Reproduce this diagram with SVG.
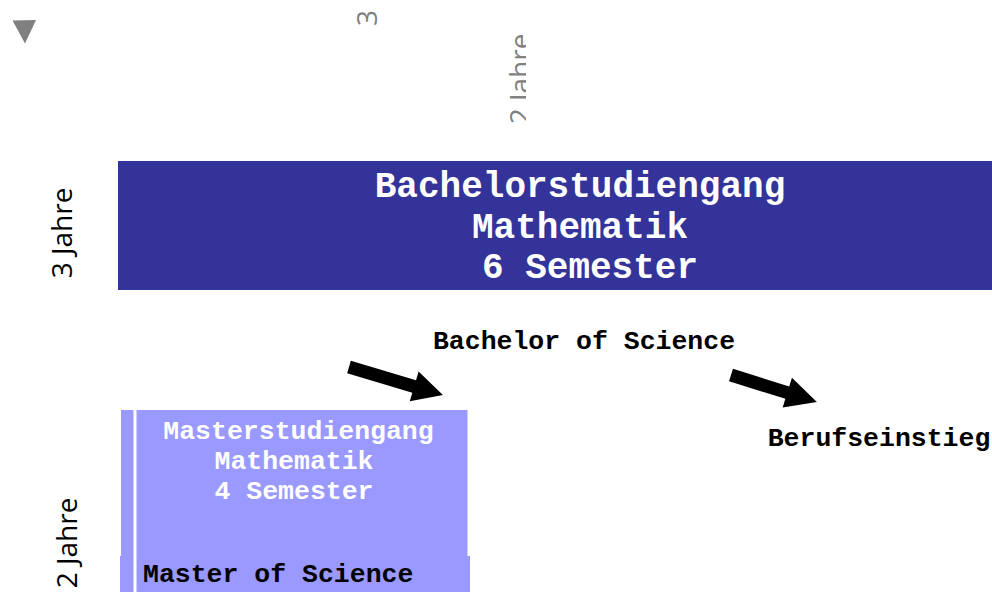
<svg xmlns="http://www.w3.org/2000/svg" width="992" height="592" viewBox="0 0 992 592">
  <style>
    .mono { font-family: "Liberation Mono", "DejaVu Sans Mono", monospace; font-weight: bold; }
    .w { fill: #ffffff; }
    .k { fill: #000000; }
    .yr { font-family: "Open Sans", "Noto Sans", sans-serif; font-size: 28px; }
    .ghost { fill: #808080; }
    .arrow { fill: #000000; }
  </style>
  <defs>
    <clipPath id="clipTop">
      <rect x="0" y="0" width="526" height="592"/>
    </clipPath>
  </defs>
  <rect x="0" y="0" width="992" height="592" fill="#ffffff"/>

  <g id="marker-triangle">
    <polygon points="12.5,20.5 36,20 25,43.5" fill="#808080"/>
  </g>

  <g id="ghost-labels">
    <text class="yr ghost" transform="translate(377,26) rotate(-90)">3</text>
    <g clip-path="url(#clipTop)">
      <text class="yr ghost" font-size="30" text-anchor="middle" transform="translate(530,79) rotate(-90)">2 Jahre</text>
    </g>
  </g>

  <g id="label-3jahre">
    <text class="yr k" text-anchor="middle" transform="translate(72,233) rotate(-90)">3 Jahre</text>
  </g>
  <g id="label-2jahre">
    <text class="yr k" text-anchor="middle" transform="translate(77,543) rotate(-90)">2 Jahre</text>
  </g>

  <g id="bachelor">
    <rect x="118" y="161" width="874" height="129" fill="#333399"/>
    <text class="mono w" font-size="36" text-anchor="middle" x="580" y="197">Bachelorstudiengang</text>
    <text class="mono w" font-size="36" text-anchor="middle" x="580" y="238">Mathematik</text>
    <text class="mono w" font-size="36" text-anchor="middle" x="590" y="278">6 Semester</text>
  </g>

  <g id="bachelor-of-science">
    <text class="mono k" font-size="26.5" text-anchor="middle" x="584" y="349">Bachelor of Science</text>
  </g>

  <g id="berufseinstieg">
    <text class="mono k" font-size="26.5" text-anchor="middle" x="879" y="446">Berufseinstieg</text>
  </g>

  <g id="master">
    <rect x="121" y="410" width="12.5" height="146" fill="#9999ff"/>
    <rect x="136.5" y="410" width="331" height="146" fill="#9999ff"/>
    <rect x="120" y="556" width="13.5" height="36" fill="#9999ff"/>
    <rect x="136.5" y="556" width="333.5" height="36" fill="#9999ff"/>
    <text class="mono w" font-size="26.5" text-anchor="middle" x="298.5" y="439">Masterstudiengang</text>
    <text class="mono w" font-size="26.5" text-anchor="middle" x="294" y="469">Mathematik</text>
    <text class="mono w" font-size="26.5" text-anchor="middle" x="294" y="499">4 Semester</text>
    <text class="mono k" font-size="26.5" x="143" y="582">Master of Science</text>
  </g>

  <g id="connectors">
    <polygon class="arrow" transform="translate(349,367) rotate(16.6)" points="0,-6.5 68,-6.5 68,-15.5 98,0 68,15.5 68,6.5 0,6.5"/>
    <polygon class="arrow" transform="translate(731,375) rotate(17.4)" points="0,-6.5 59,-6.5 59,-15.5 90,0 59,15.5 59,6.5 0,6.5"/>
  </g>
</svg>
